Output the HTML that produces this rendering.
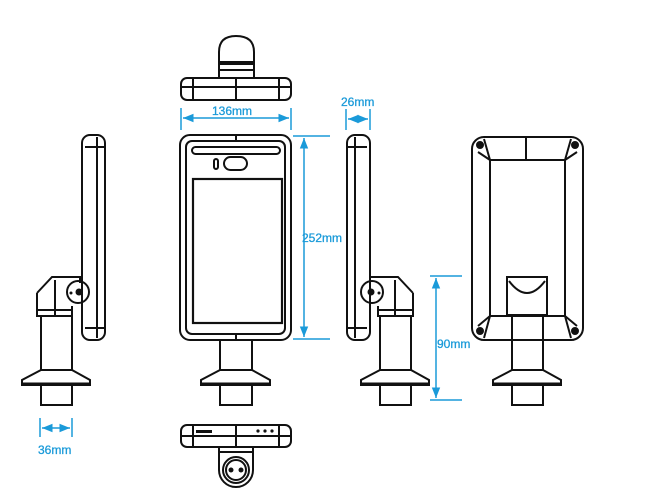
<!DOCTYPE html>
<html><head><meta charset="utf-8"><style>
html,body{margin:0;padding:0;background:#fff;}
svg{display:block;}
text{font-family:"Liberation Sans",sans-serif;font-size:12px;fill:#1a9ad9;stroke:#1a9ad9;stroke-width:0.3;}
</style></head><body>
<svg width="647" height="500" viewBox="0 0 647 500" xmlns="http://www.w3.org/2000/svg">
<defs>
<marker id="a" viewBox="0 0 10 10" refX="10" refY="5" markerWidth="7" markerHeight="7" orient="auto-start-reverse"><path d="M0,1 L10,5 L0,9 z" fill="#1a9ad9"/></marker>
</defs>
<g fill="none" stroke="#111" stroke-width="2">
<!-- top view -->
<path d="M219,64 L219,52 Q219,36 236,36 Q254,36 254,52 L254,64 Z"/>
<rect x="219" y="62" width="35" height="16"/>
<line x1="219" y1="70" x2="254" y2="70"/>
<rect x="181" y="78" width="110" height="22" rx="6"/>
<line x1="193" y1="78" x2="193" y2="100"/><line x1="279" y1="78" x2="279" y2="100"/>
<line x1="236" y1="78" x2="236" y2="100"/><line x1="181" y1="87" x2="291" y2="87"/>
<!-- front view -->
<rect x="180" y="135" width="111" height="205" rx="10"/>
<rect x="186" y="141" width="99" height="193" rx="6"/>
<rect x="192" y="147" width="88" height="7" rx="3.5"/>
<rect x="214" y="159" width="4" height="10" rx="2"/>
<rect x="224" y="157" width="23" height="13" rx="6.5"/>
<rect x="193" y="179" width="89" height="144" stroke-width="2.2"/>
<line x1="236" y1="135" x2="236" y2="141"/><line x1="236" y1="334" x2="236" y2="340"/>
<path d="M220,340 V370 M252,340 V370"/>
<path d="M220,370 L252,370 L270,380 L270,385 L201,385 L201,380 Z"/>
<line x1="201" y1="384" x2="270" y2="384" stroke-width="3"/>
<rect x="220" y="385" width="32" height="20"/>
<!-- bottom view -->
<rect x="181" y="425" width="110" height="22" rx="6"/>
<line x1="236" y1="425" x2="236" y2="447"/><line x1="181" y1="436" x2="291" y2="436"/>
<line x1="193" y1="425" x2="193" y2="447"/><line x1="279" y1="425" x2="279" y2="447"/>
<path d="M219,447 L219,470 A17,17 0 0 0 253,470 L253,447 Z"/>
<line x1="219" y1="452" x2="253" y2="452"/>
<circle cx="236" cy="470" r="13"/><circle cx="236" cy="470" r="10"/>
<!-- left side view -->
<rect x="82" y="135" width="23" height="205" rx="8"/>
<line x1="97" y1="137" x2="97" y2="338"/>
<line x1="85" y1="147" x2="104" y2="147"/><line x1="85" y1="328" x2="104" y2="328"/>
<path d="M37,293 L52,277 L80,277 L80,283"/>
<path d="M37,293 L37,316 L72,316 L72,306"/>
<line x1="55" y1="280" x2="55" y2="316"/><line x1="37" y1="310" x2="72" y2="310"/>
<circle cx="78" cy="292" r="11"/>
<path d="M41,316 V370 M72,316 V370"/>
<path d="M41,370 L72,370 L90,380 L90,385 L22,385 L22,380 Z"/>
<line x1="22" y1="384" x2="90" y2="384" stroke-width="3"/>
<rect x="41" y="385" width="31" height="20"/>
<!-- right side view -->
<rect x="347" y="135" width="23" height="205" rx="8"/>
<line x1="355" y1="137" x2="355" y2="338"/>
<line x1="348" y1="147" x2="367" y2="147"/><line x1="348" y1="328" x2="367" y2="328"/>
<path d="M413,293 L398,277 L370,277 L370,283"/>
<path d="M413,293 L413,316 L378,316 L378,306"/>
<line x1="395" y1="280" x2="395" y2="316"/><line x1="378" y1="310" x2="413" y2="310"/>
<circle cx="372" cy="292" r="11"/>
<path d="M380,316 V370 M411,316 V370"/>
<path d="M380,370 L411,370 L429,380 L429,385 L361,385 L361,380 Z"/>
<line x1="361" y1="384" x2="429" y2="384" stroke-width="3"/>
<rect x="380" y="385" width="31" height="20"/>
<!-- back view -->
<rect x="472" y="137" width="111" height="203" rx="12"/>
<rect x="490" y="160" width="75" height="156"/>
<line x1="526" y1="137" x2="526" y2="160"/>
<path d="M490,160 L478,152 M565,160 L577,152 M490,316 L478,326 M565,316 L577,326"/>
<path d="M490,160 L484,139 M565,160 L571,139 M490,316 L484,338 M565,316 L571,338"/>
<circle cx="480" cy="145" r="3" fill="#111"/><circle cx="575" cy="145" r="3" fill="#111"/>
<circle cx="480" cy="331" r="3" fill="#111"/><circle cx="575" cy="331" r="3" fill="#111"/>
<rect x="507" y="277" width="40" height="38"/>
<path d="M509,281 Q527,305 545,281"/>
<path d="M512,316 V370 M543,316 V370"/>
<path d="M512,370 L543,370 L561,380 L561,385 L493,385 L493,380 Z"/>
<line x1="493" y1="384" x2="561" y2="384" stroke-width="3"/>
<rect x="512" y="385" width="31" height="20"/>
</g>
<g fill="#111">
<circle cx="79" cy="292" r="3.5"/><circle cx="71" cy="293" r="1.5"/>
<circle cx="371" cy="292" r="3.5"/><circle cx="379" cy="293" r="1.5"/>
<rect x="196" y="430" width="16" height="3"/>
<circle cx="258" cy="431" r="1.6"/><circle cx="265" cy="431" r="1.6"/><circle cx="272" cy="431" r="1.6"/>
<circle cx="231" cy="470" r="2.5"/><circle cx="241" cy="470" r="2.5"/>
</g>
<!-- dimensions -->
<g stroke="#1a9ad9" stroke-width="1.5" fill="none">
<line x1="181" y1="108" x2="181" y2="130"/><line x1="291" y1="108" x2="291" y2="130"/>
<line x1="183" y1="118" x2="289" y2="118" marker-start="url(#a)" marker-end="url(#a)"/>
<line x1="293" y1="136" x2="330" y2="136"/><line x1="293" y1="339" x2="330" y2="339"/>
<line x1="304" y1="138" x2="304" y2="337" marker-start="url(#a)" marker-end="url(#a)"/>
<line x1="346" y1="109" x2="346" y2="130"/><line x1="370" y1="109" x2="370" y2="130"/>
<line x1="348" y1="119" x2="368" y2="119" marker-start="url(#a)" marker-end="url(#a)"/>
<line x1="40" y1="418" x2="40" y2="437"/><line x1="72" y1="418" x2="72" y2="437"/>
<line x1="42" y1="428" x2="70" y2="428" marker-start="url(#a)" marker-end="url(#a)"/>
<line x1="430" y1="276" x2="462" y2="276"/><line x1="430" y1="400" x2="462" y2="400"/>
<line x1="436" y1="278" x2="436" y2="398" marker-start="url(#a)" marker-end="url(#a)"/>
</g>
<text x="212" y="115">136mm</text>
<text x="302" y="242">252mm</text>
<text x="341" y="106">26mm</text>
<text x="38" y="454">36mm</text>
<text x="437" y="348">90mm</text>
</svg>
</body></html>
